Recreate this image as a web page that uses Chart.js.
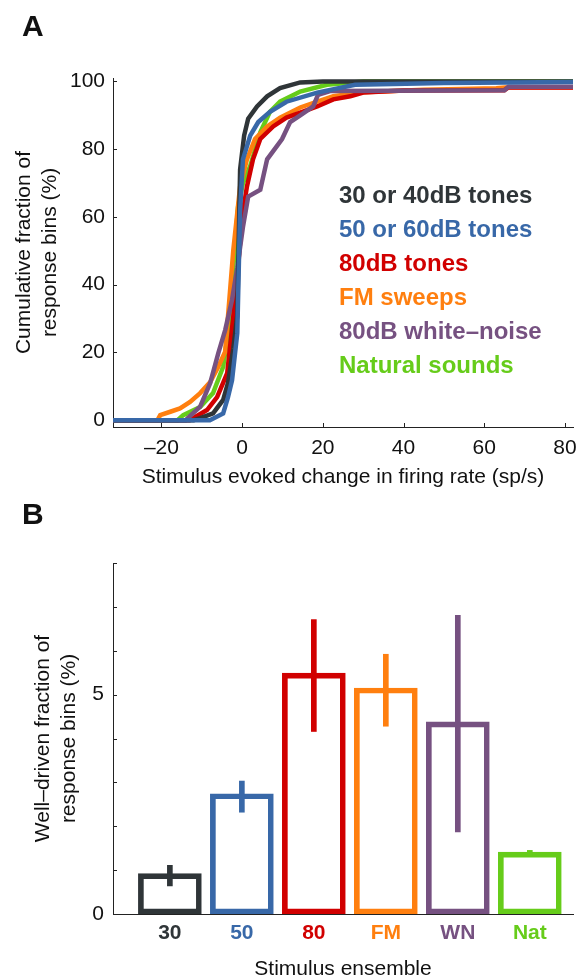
<!DOCTYPE html>
<html>
<head>
<meta charset="utf-8">
<script src="https://cdn.jsdelivr.net/npm/chart.js@4/dist/chart.umd.min.js"></script>
<style>
  body { margin: 0; background: #fff; }
  #wrap { position: relative; width: 577px; height: 980px; font-family: "Liberation Sans", Arial, sans-serif; color: #111; }
  .panel { position: absolute; left: 22px; font-size: 30px; font-weight: bold; line-height: 30px; }
  canvas { position: absolute; left: 0; }
</style>
</head>
<body>
<div id="wrap">
  <canvas id="cdfChart" width="577" height="490" style="top:0"></canvas>
  <canvas id="barChart" width="577" height="490" style="top:490px"></canvas>
  <div class="panel" style="top:11px">A</div>
  <div class="panel" style="top:499px">B</div>
</div>
<script>
// panel A - cumulative distributions of evoked rate change
var seriesNames = ['30 or 40dB tones', '50 or 60dB tones', '80dB tones', 'FM sweeps', '80dB white\u2013noise', 'Natural sounds'];
var seriesColors = ['#2f3538', '#3868a8', '#d10000', '#ff7f0f', '#765181', '#66cc1a'];

var tones30X = [-32, -12, -10.4, -7.2, -4.7, -3.5, -2.2, -1.2, -0.5, 0.5, 1.5, 3.7, 6.2, 9.4, 14.4, 20, 82];
var tones30Y = [0, 0, 0.6, 2, 6, 11, 21, 31, 74, 84, 89, 92.6, 95.6, 98, 99.7, 100, 100];

var tones50X = [-32, -8, -4.7, -3.5, -2.5, -1.2, -0.5, 0.2, 2, 4, 6.9, 11, 18.6, 28, 50, 82];
var tones50Y = [0, 0, 2, 6.8, 11.8, 25.7, 62, 77, 84, 88, 91, 94, 96.7, 99, 99.5, 99.8];

var tones80X = [-32, -13, -8.7, -6.2, -3.7, -2.2, -1, 0, 1.2, 2.7, 4.5, 7.7, 11, 14.4, 18.6, 22.6, 26.8, 30, 40, 65, 66, 82];
var tones80Y = [0, 0, 3, 6.8, 13.9, 30.5, 45, 60, 69, 77, 83, 86.7, 89.3, 90.8, 92.6, 94.7, 95.6, 96.7, 97.3, 97.4, 98.2, 98.2];

var fmX = [-32, -21, -20.3, -17.8, -15.4, -12.9, -10.4, -7.9, -5.9, -4.2, -2.2, -0.5, 1.2, 3.2, 6.2, 9.4, 14.4, 18.6, 22.6, 30, 45, 63, 66, 82];
var fmY = [0, 0, 1.5, 2.5, 3.5, 5.4, 8, 11.3, 15.8, 20.2, 50, 69, 77, 83, 86.7, 89.3, 92.3, 94, 95.6, 96.8, 97.5, 98, 98.3, 98.3];

var noiseX = [-32, -14, -13.6, -10.4, -7.9, -5.9, -4.2, -2.5, -1.2, 0.2, 1.5, 4.5, 6.2, 9.9, 11.9, 14.4, 17.6, 18.8, 22, 65, 66, 82];
var noiseY = [0, 0, 0.5, 4, 11, 19.8, 26.6, 35.5, 45, 57, 66, 68, 77, 83, 88, 90, 92.6, 96, 97.2, 97.4, 98.4, 98.4];

var naturalX = [-32, -16, -14.6, -10.4, -7.2, -4.7, -3.5, -2.5, -1, 0.2, 2, 4.5, 6.9, 9.4, 14.4, 21, 30, 82];
var naturalY = [0, 0, 1.5, 3.9, 8, 15.8, 25.7, 40.5, 63, 70, 75, 85, 91, 94, 97, 99, 100, 100];

var cdfXTicks = [-20, 0, 20, 40, 60, 80];
var cdfYTicks = [0, 20, 40, 60, 80, 100];

// panel B - well-driven fraction per ensemble
var ensembleNames = ['30', '50', '80', 'FM', 'WN', 'Nat'];
var wellDriven = [0.92, 2.74, 5.49, 5.15, 4.38, 1.41];
var errLow = [0.64, 2.32, 4.16, 4.28, 1.87, 1.32];
var errHigh = [1.11, 3.03, 6.71, 5.92, 6.81, 1.45];
var barYTicks = [0, 1, 2, 3, 4, 5, 6, 7, 8];

document.addEventListener('DOMContentLoaded', function () {

var textColor = '#111';
var axisColor = '#222';
Chart.defaults.font.family = '"Liberation Sans", Arial, sans-serif';
Chart.defaults.color = textColor;

// matlab style ticks pointing into the plot
var inwardTicks = {
    id: 'inwardTicks',
    beforeDatasetsDraw: function (chart, args, opts) {
        var ctx = chart.ctx, area = chart.chartArea;
        ctx.save();
        ctx.strokeStyle = axisColor;
        ctx.lineWidth = 1;
        (opts.axes || []).forEach(function (id) {
            var scale = chart.scales[id];
            scale.ticks.forEach(function (t) {
                var p = Math.round(scale.getPixelForValue(t.value)) + 0.5;
                ctx.beginPath();
                if (scale.isHorizontal()) {
                    ctx.moveTo(p, area.bottom);
                    ctx.lineTo(p, area.bottom - opts.length);
                } else {
                    ctx.moveTo(area.left, p);
                    ctx.lineTo(area.left + opts.length, p);
                }
                ctx.stroke();
            });
        });
        ctx.restore();
    }
};

// coloured text legend inside panel A
var curveLegend = {
    id: 'curveLegend',
    afterDatasetsDraw: function (chart, args, opts) {
        if (!opts.show) return;
        var ctx = chart.ctx;
        var xs = chart.scales.x, ys = chart.scales.y;
        ctx.save();
        ctx.font = 'bold 24px "Liberation Sans", Arial, sans-serif';
        ctx.textBaseline = 'middle';
        ctx.textAlign = 'left';
        chart.data.datasets.forEach(function (ds, i) {
            ctx.fillStyle = ds.borderColor;
            ctx.fillText(ds.label, xs.getPixelForValue(opts.x), ys.getPixelForValue(opts.top - i * opts.step));
        });
        ctx.restore();
    }
};

function toPoints(xs, ys) {
    return xs.map(function (x, i) { return {x: x, y: ys[i]}; });
}

var curves = [
    toPoints(tones30X, tones30Y),
    toPoints(tones50X, tones50Y),
    toPoints(tones80X, tones80Y),
    toPoints(fmX, fmY),
    toPoints(noiseX, noiseY),
    toPoints(naturalX, naturalY)
];
// lower order is drawn on top
var drawOrder = [1, 0, 3, 4, 2, 5];

function minusLabel(v) {
    return v < 0 ? '\u2013' + Math.abs(v) : String(v);
}

function noEdgePadding(axis) {
    axis.paddingLeft = 0;
    axis.paddingRight = 0;
    axis.paddingTop = 0;
    axis.paddingBottom = 0;
}

new Chart(document.getElementById('cdfChart').getContext('2d'), {
    type: 'line',
    data: {
        datasets: seriesNames.map(function (name, i) {
            return {
                label: name,
                data: curves[i],
                borderColor: seriesColors[i],
                backgroundColor: seriesColors[i],
                borderWidth: 4.5,
                pointRadius: 0,
                tension: 0,
                fill: false,
                order: drawOrder[i]
            };
        })
    },
    options: {
        responsive: false,
        animation: false,
        layout: { padding: { top: 78, right: 4, left: 0, bottom: 0 } },
        plugins: {
            legend: { display: false },
            tooltip: { enabled: false },
            inwardTicks: { axes: ['x', 'y'], length: 4 },
            curveLegend: { show: true, x: 24, top: 66, step: 10 }
        },
        scales: {
            x: {
                type: 'linear',
                min: -32,
                max: 82,
                afterBuildTicks: function (axis) { axis.ticks = cdfXTicks.map(function (v) { return {value: v}; }); },
                afterFit: function (axis) { axis.height = 63; noEdgePadding(axis); },
                grid: { display: false, drawTicks: false },
                border: { display: true, color: axisColor, width: 1 },
                ticks: { padding: 9, autoSkip: false, maxRotation: 0, font: { size: 21 }, color: textColor, callback: minusLabel },
                title: { display: true, text: 'Stimulus evoked change in firing rate (sp/s)', font: { size: 21, lineHeight: 1.2 }, color: textColor, padding: 0 }
            },
            y: {
                type: 'linear',
                min: -2,
                max: 101,
                afterBuildTicks: function (axis) { axis.ticks = cdfYTicks.map(function (v) { return {value: v}; }); },
                afterFit: function (axis) { axis.width = 113; noEdgePadding(axis); },
                grid: { display: false, drawTicks: false },
                border: { display: true, color: axisColor, width: 1 },
                ticks: { padding: 8, autoSkip: false, font: { size: 21 }, color: textColor },
                title: { display: true, text: ['Cumulative fraction of', 'response bins (%)'], font: { size: 21, lineHeight: 1.2 }, color: textColor, padding: { top: 12, bottom: 0 } }
            }
        }
    },
    plugins: [inwardTicks, curveLegend]
});

new Chart(document.getElementById('barChart').getContext('2d'), {
    type: 'bar',
    data: {
        datasets: [
            {
                label: 'sem',
                data: ensembleNames.map(function (n, i) { return {x: i + 1, y: [errLow[i], errHigh[i]]}; }),
                backgroundColor: seriesColors,
                borderWidth: 0,
                barThickness: 5,
                grouped: false,
                order: 0
            },
            {
                label: 'well-driven',
                data: ensembleNames.map(function (n, i) { return {x: i + 1, y: wellDriven[i]}; }),
                backgroundColor: 'rgba(0,0,0,0)',
                borderColor: seriesColors,
                borderWidth: 5,
                borderSkipped: false,
                barThickness: 63,
                grouped: false,
                order: 1
            }
        ]
    },
    options: {
        responsive: false,
        animation: false,
        layout: { padding: { top: 73, right: 4, left: 0, bottom: 0 } },
        plugins: {
            legend: { display: false },
            tooltip: { enabled: false },
            inwardTicks: { axes: ['y'], length: 4 }
        },
        scales: {
            x: {
                type: 'linear',
                min: 0.21,
                max: 6.6,
                offset: false,
                afterBuildTicks: function (axis) { axis.ticks = ensembleNames.map(function (n, i) { return {value: i + 1}; }); },
                afterFit: function (axis) { axis.height = 66; noEdgePadding(axis); },
                grid: { display: false, drawTicks: false, offset: false },
                border: { display: true, color: axisColor, width: 1 },
                ticks: {
                    padding: 7,
                    autoSkip: false,
                    maxRotation: 0,
                    font: { size: 21, weight: 'bold' },
                    color: function (c) { return seriesColors[c.index]; },
                    callback: function (v, i) { return ensembleNames[i]; }
                },
                title: { display: true, text: 'Stimulus ensemble', font: { size: 21, lineHeight: 1.0 }, color: textColor, padding: 0 }
            },
            y: {
                type: 'linear',
                min: 0,
                max: 8,
                afterBuildTicks: function (axis) { axis.ticks = barYTicks.map(function (v) { return {value: v}; }); },
                afterFit: function (axis) { axis.width = 113; noEdgePadding(axis); },
                grid: { display: false, drawTicks: false },
                border: { display: true, color: axisColor, width: 1 },
                ticks: { padding: 9, autoSkip: false, font: { size: 21 }, color: textColor, callback: function (v) { return (v === 0 || v === 5) ? String(v) : ''; } },
                title: { display: true, text: ['Well\u2013driven fraction of', 'response bins (%)'], font: { size: 21, lineHeight: 1.2 }, color: textColor, padding: { top: 31, bottom: 0 } }
            }
        }
    },
    plugins: [inwardTicks]
});

});
</script>
</body>
</html>
